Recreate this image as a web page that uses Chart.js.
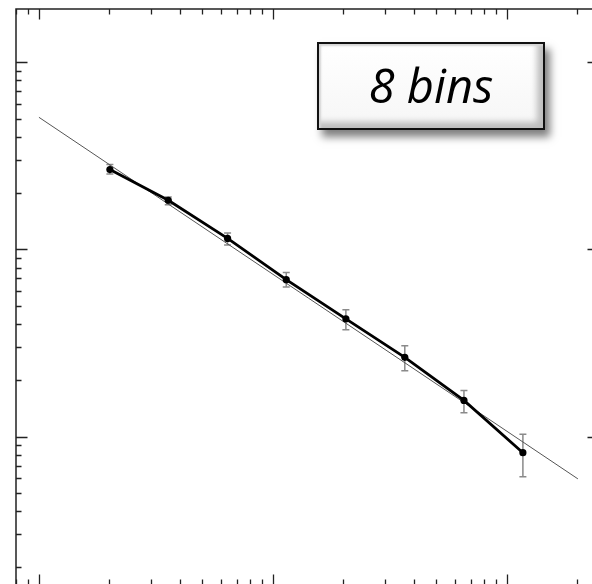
<!DOCTYPE html>
<html>
<head>
<meta charset="utf-8">
<script src="https://cdn.jsdelivr.net/npm/chart.js@4/dist/chart.umd.min.js"></script>
<style>
  html, body { margin: 0; padding: 0; background: #fff; overflow: hidden; }
  #wrap { position: absolute; left: 0; top: 0; width: 600px; height: 590px; }
  #label {
    position: absolute; left: 317px; top: 42px; width: 228px; height: 88px;
    box-sizing: border-box; border: 2.5px solid #111;
    background: linear-gradient(#ffffff, #f6f6f6);
    box-shadow: inset 2px 2px 2px #d4d4d4, inset -6px -6px 6px #bdbdbd, 5px 7px 8px rgba(0,0,0,0.5);
    display: flex; align-items: center; justify-content: center;
    font-family: "Open Sans", sans-serif; font-style: italic; font-size: 47px; color: #000;
    padding-bottom: 2px;
  }
</style>
</head>
<body>
<div id="wrap">
  <canvas id="chart" width="600" height="590"></canvas>
  <div id="label">8 bins</div>
</div>
<script>
// binned data (log-log)
const binCenters = [2.01, 3.57, 6.40, 11.4, 20.5, 36.6, 65.5, 117];
const counts     = [26.7, 18.3, 11.45, 6.89, 4.25, 2.65, 1.56, 0.82];
const errHigh    = [28.4, 19.06, 12.24, 7.53, 4.76, 3.06, 1.76, 1.03];
const errLow     = [25.3, 17.34, 10.56, 6.29, 3.72, 2.25, 1.34, 0.61];

// power-law fit line endpoints
const fitX = [1.0, 201];
const fitY = [50.8, 0.594];

// axis ranges
const xRange = [0.798, 247.4];
const yRange = [0.161, 192.5];

const errorBars = {
  id: 'errorBars',
  beforeDatasetsDraw(chart) {
    const ctx = chart.ctx;
    const xs = chart.scales.x, ys = chart.scales.y;
    ctx.save();
    ctx.strokeStyle = '#8a8a8a';
    ctx.lineWidth = 1.5;
    binCenters.forEach((x, i) => {
      const px = xs.getPixelForValue(x);
      const top = ys.getPixelForValue(errHigh[i]);
      const bot = ys.getPixelForValue(errLow[i]);
      ctx.beginPath();
      ctx.moveTo(px, top); ctx.lineTo(px, bot);
      ctx.moveTo(px - 3.5, top); ctx.lineTo(px + 3.5, top);
      ctx.moveTo(px - 3.5, bot); ctx.lineTo(px + 3.5, bot);
      ctx.stroke();
    });
    ctx.restore();
  }
};

// frame with inward log ticks on all four sides
const frame = {
  id: 'frame',
  afterDraw(chart) {
    const ctx = chart.ctx;
    const a = chart.chartArea;
    const xs = chart.scales.x, ys = chart.scales.y;
    ctx.save();
    ctx.strokeStyle = '#222';
    ctx.lineWidth = 1.5;
    ctx.strokeRect(a.left, a.top, a.right - a.left, a.bottom - a.top);
    ctx.lineWidth = 1.3;
    ctx.beginPath();
    for (let d = -2; d <= 3; d++) {
      for (let m = 1; m <= 9; m++) {
        const v = m * Math.pow(10, d);
        const len = m === 1 ? 10.5 : 5.5;
        if (v >= xRange[0] && v <= xRange[1]) {
          const px = Math.round(xs.getPixelForValue(v)) + 0.5;
          ctx.moveTo(px, a.top); ctx.lineTo(px, a.top + len);
          ctx.moveTo(px, a.bottom); ctx.lineTo(px, a.bottom - len);
        }
        if (v >= yRange[0] && v <= yRange[1]) {
          const py = Math.round(ys.getPixelForValue(v)) + 0.5;
          const ylen = m === 1 ? 11.5 : 5.5;
          ctx.moveTo(a.left, py); ctx.lineTo(a.left + ylen, py);
          ctx.moveTo(a.right, py); ctx.lineTo(a.right - ylen, py);
        }
      }
    }
    ctx.stroke();
    ctx.restore();
  }
};

new Chart(document.getElementById('chart'), {
  type: 'line',
  data: {
    datasets: [
      {
        label: 'data',
        data: binCenters.map((x, i) => ({ x: x, y: counts[i] })),
        borderColor: '#000',
        borderWidth: 2.8,
        pointRadius: 3.6,
        pointBackgroundColor: '#000',
        pointBorderWidth: 0,
        order: 1
      },
      {
        label: 'fit',
        data: fitX.map((x, i) => ({ x: x, y: fitY[i] })),
        borderColor: '#555',
        borderWidth: 1,
        pointRadius: 0,
        order: 2
      }
    ]
  },
  options: {
    responsive: false,
    animation: false,
    layout: { autoPadding: false, padding: { left: 16, top: 9, right: 1, bottom: 5 } },
    scales: {
      x: { type: 'logarithmic', min: xRange[0], max: xRange[1], display: false },
      y: { type: 'logarithmic', min: yRange[0], max: yRange[1], display: false }
    },
    plugins: { legend: { display: false }, tooltip: { enabled: false } }
  },
  plugins: [errorBars, frame]
});
</script>
</body>
</html>
